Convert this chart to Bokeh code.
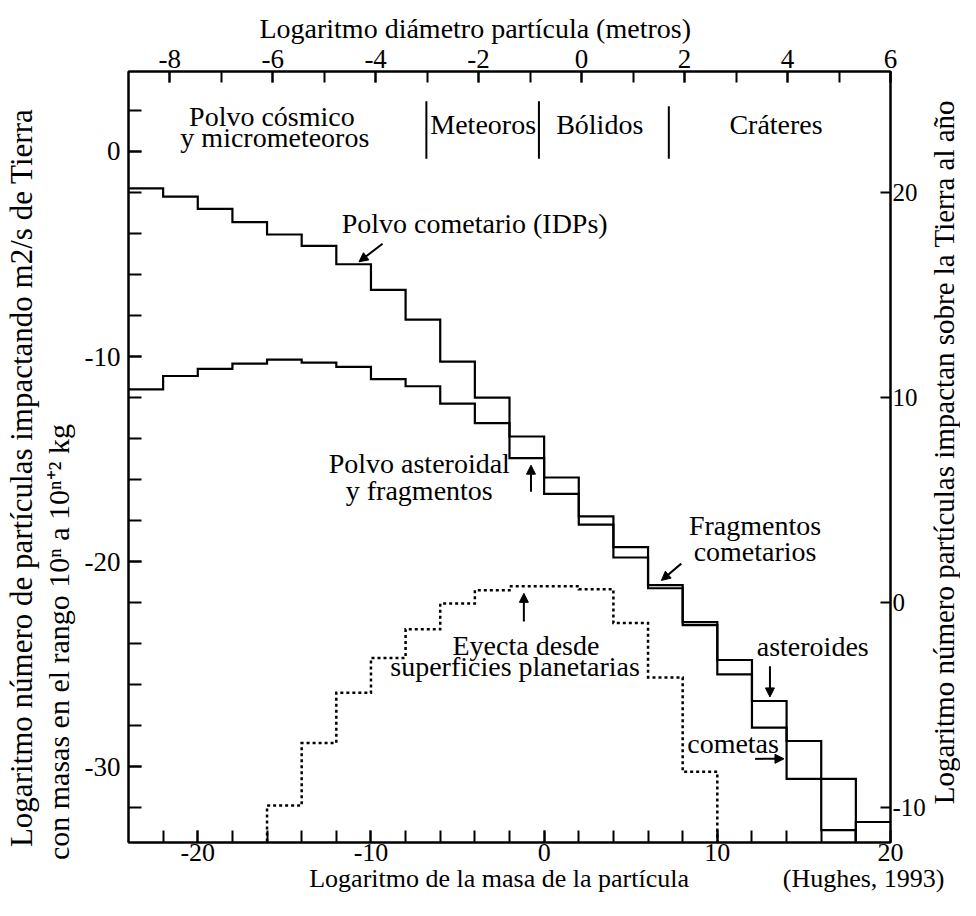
import numpy as np
from bokeh.plotting import figure
from bokeh.models import Range1d, LinearAxis, FixedTicker, Label, Arrow, NormalHead
from bokeh.embed import file_html
from bokeh.resources import INLINE

# ---------------- data ----------------
# log mass bins (start of each 2-decade bin)
mass_bins = [-24, -22, -20, -18, -16, -14, -12, -10, -8, -6, -4, -2,
             0, 2, 4, 6, 8, 10, 12, 14, 16, 18]
# cometary dust (IDPs) -> cometary fragments -> comets
cometary = [-1.8, -2.2, -2.8, -3.45, -4.05, -4.6, -5.5, -6.75, -8.2, -10.25, -12.0, -13.9,
            -15.9, -17.8, -19.3, -21.15, -22.95, -25.5, -28.1, -28.75, -33.1, -32.7]
# asteroidal dust and fragments -> asteroids
asteroidal = [-11.6, -10.95, -10.6, -10.35, -10.15, -10.3, -10.5, -11.1, -11.45, -12.3, -13.25, -14.95,
              -16.7, -18.2, -19.8, -21.3, -23.1, -24.8, -26.8, -30.6, -30.6, -35.0]
# ejecta from planetary surfaces (dotted)
ejecta_bins = [-16, -14, -12, -10, -8, -6, -4, -2, 0, 2, 4, 6, 8]
ejecta = [-31.9, -28.85, -26.4, -24.7, -23.3, -22.05, -21.4, -21.2, -21.2, -21.35, -23.0, -25.65, -30.25]
bin_width = 2

# region boundaries (log mass)
region_bounds = [-6.8, -0.3, 7.2]
region_tops = [2.45, 2.45, 2.2]
region_bottom = -0.35

# axes ticks
bottom_ticks = [-20, -10, 0, 10, 20]
bottom_minor = [-22, -20, -18, -16, -14, -12, -10, -8, -6, -4, -2, 0, 2, 4, 6, 8, 10, 12, 14, 16, 18]
left_ticks = [-30, -20, -10, 0]
left_minor = [-32, -30, -28, -26, -24, -22, -20, -18, -16, -14, -12, -10, -8, -6, -4, -2, 0, 2]
top_ticks = [-8, -6, -4, -2, 0, 2, 4, 6]
top_minor = [-8, -7, -6, -5, -4, -3, -2, -1, 0, 1, 2, 3, 4, 5, 6]
right_ticks = [-10, 0, 10, 20]

# titles
top_title = "Logaritmo diámetro partícula (metros)"
bottom_title = "Logaritmo de la masa de la partícula"
source_note = "(Hughes, 1993)"
left_title_1 = "Logaritmo número de partículas impactando m2/s  de Tierra"
left_title_2 = "con masas en el rango  10ⁿ a 10ⁿ⁺² kg"
right_title = "Logaritmo número partículas impactan sobre la Tierra al año"

X0, X1 = -24.0, 20.0
Y0, Y1 = -33.7, 3.9
RIGHT_OFFSET = 22.0
TOP_D = (-8.8, 6.0)

FONT = "Liberation Serif"


def step_xy(starts, vals, width, drop_to=None):
    xs, ys = [], []
    if drop_to is not None:
        xs.append(starts[0]); ys.append(drop_to)
    for s, v in zip(starts, vals):
        xs += [s, s + width]
        ys += [v, v]
    if drop_to is not None:
        xs.append(starts[-1] + width); ys.append(drop_to)
    return xs, ys


W, H = 960, 900
p = figure(width=W, height=H, output_backend="svg", toolbar_location=None,
           x_range=Range1d(X0, X1), y_range=Range1d(Y0, Y1),
           min_border_left=128, min_border_right=W - 893, min_border_top=71,
           min_border_bottom=58,
           background_fill_color="white", border_fill_color="white")
p.grid.visible = False
p.outline_line_color = "black"
p.outline_line_width = 2

p.extra_x_ranges = {"top": Range1d(*TOP_D)}
p.extra_y_ranges = {"right": Range1d(Y0 + RIGHT_OFFSET, Y1 + RIGHT_OFFSET)}


def hyphen_labels(ticks):
    return {t: ("-%d" % abs(t) if t < 0 else "%d" % t) for t in ticks}


def style_axis(ax, ticks, minor, tick_len=12, standoff=8, size="27px"):
    ax.ticker = FixedTicker(ticks=ticks, minor_ticks=minor)
    ax.major_label_overrides = hyphen_labels(ticks)
    ax.major_tick_in = tick_len
    ax.major_tick_out = 0
    ax.minor_tick_in = tick_len
    ax.minor_tick_out = 0
    ax.major_tick_line_width = 2
    ax.minor_tick_line_width = 2
    ax.axis_line_width = 2
    ax.axis_line_color = "black"
    ax.major_tick_line_color = "black"
    ax.minor_tick_line_color = "black"
    ax.major_label_text_font = FONT
    ax.major_label_text_font_size = size
    ax.major_label_text_color = "black"
    ax.major_label_standoff = standoff
    ax.axis_label = None


def text_axis(loc, ticks, texts, size, standoff, orientation="horizontal", **kw):
    """An axis without line/ticks whose only labels are titles (keeps them outside the frame)."""
    ax = LinearAxis(**kw)
    ax.ticker = FixedTicker(ticks=ticks, minor_ticks=[])
    ax.major_label_overrides = dict(zip(ticks, texts))
    ax.axis_line_color = None
    ax.major_tick_line_color = None
    ax.minor_tick_line_color = None
    ax.major_tick_in = 0
    ax.major_tick_out = 0
    ax.minor_tick_in = 0
    ax.minor_tick_out = 0
    ax.major_label_text_font = FONT
    ax.major_label_text_font_size = size
    ax.major_label_text_color = "black"
    ax.major_label_standoff = standoff
    ax.major_label_orientation = orientation
    ax.axis_label = None
    p.add_layout(ax, loc)
    return ax


style_axis(p.xaxis[0], bottom_ticks, bottom_minor, 12, 1, size="26px")
style_axis(p.yaxis[0], left_ticks, left_minor, 13, 8)

top_axis = LinearAxis(x_range_name="top")
style_axis(top_axis, top_ticks, top_minor, 11, 4)
p.add_layout(top_axis, "above")

right_axis = LinearAxis(y_range_name="right")
style_axis(right_axis, right_ticks, [], 10, 2, size="25px")
p.add_layout(right_axis, "right")

# titles as label-only axes (stacked outside the tick axes)
text_axis("above", [-3.98], [top_title], "28px", 3)
text_axis("below", [-2.6, 18.45], [bottom_title, source_note], "26px", 0)
text_axis("left", [-23.74], [left_title_2], "30px", 6, orientation="parallel")
text_axis("left", [-15.73], [left_title_1], "31px", 0, orientation="parallel")

# right-hand title, reading upwards, kept in the right side panel
p.add_layout(Label(x=23.1, y=-14.66, text=right_title, angle=np.pi / 2,
                   text_font=FONT, text_font_size="29px", text_align="center",
                   text_baseline="middle", text_color="black"), "right")

# ---------------- step curves ----------------
below = Y0 - 2
xs, ys = step_xy(mass_bins, cometary, bin_width)
p.line(xs, ys, line_color="black", line_width=2.2, line_join="miter")
xs, ys = step_xy(mass_bins, asteroidal, bin_width)
p.line(xs, ys, line_color="black", line_width=2.2, line_join="miter")
xs, ys = step_xy(ejecta_bins, ejecta, bin_width, drop_to=below)
p.line(xs, ys, line_color="black", line_width=2.5, line_dash="3 3", line_join="miter")

# region separators
p.segment(x0=region_bounds, y0=[region_bottom] * 3, x1=region_bounds, y1=region_tops,
          line_color="black", line_width=2)


def lab(x, y, text, size="28px", align="center", baseline="middle"):
    p.add_layout(Label(x=x, y=y, text=text, text_font=FONT, text_font_size=size,
                       text_align=align, text_baseline=baseline, text_color="black"))


def arrow(x0, y0, x1, y1):
    p.add_layout(Arrow(end=NormalHead(size=9, fill_color="black", line_color="black", line_width=1),
                       x_start=x0, y_start=y0, x_end=x1, y_end=y1,
                       line_color="black", line_width=2))


# region names
lab(-15.72, 1.71, "Polvo cósmico")
lab(-15.55, 0.69, "y micrometeoros")
lab(-3.52, 1.33, "Meteoros")
lab(3.21, 1.33, "Bólidos")
lab(13.39, 1.33, "Cráteres")

# curve annotations
lab(-11.69, -3.53, "Polvo cometario (IDPs)", align="left")
arrow(-9.33, -4.50, -10.69, -5.38)

lab(-7.21, -15.2, "Polvo asteroidal")
lab(-7.21, -16.55, "y fragmentos")
arrow(-0.76, -16.6, -0.76, -15.3)

lab(12.18, -18.25, "Fragmentos")
lab(12.18, -19.51, "cometarios")
arrow(7.92, -20.1, 6.77, -20.92)

lab(-1.05, -24.08, "Eyecta desde")
lab(-1.68, -25.1, "superficies planetarias")
arrow(-1.17, -22.92, -1.17, -21.55)

lab(15.51, -24.13, "asteroides")
arrow(13.04, -25.1, 13.04, -26.6)

lab(10.91, -28.89, "cometas")
arrow(12.18, -29.62, 13.85, -29.62)

open("out.html", "w").write(file_html(p, INLINE, title="Hughes 1993"))
